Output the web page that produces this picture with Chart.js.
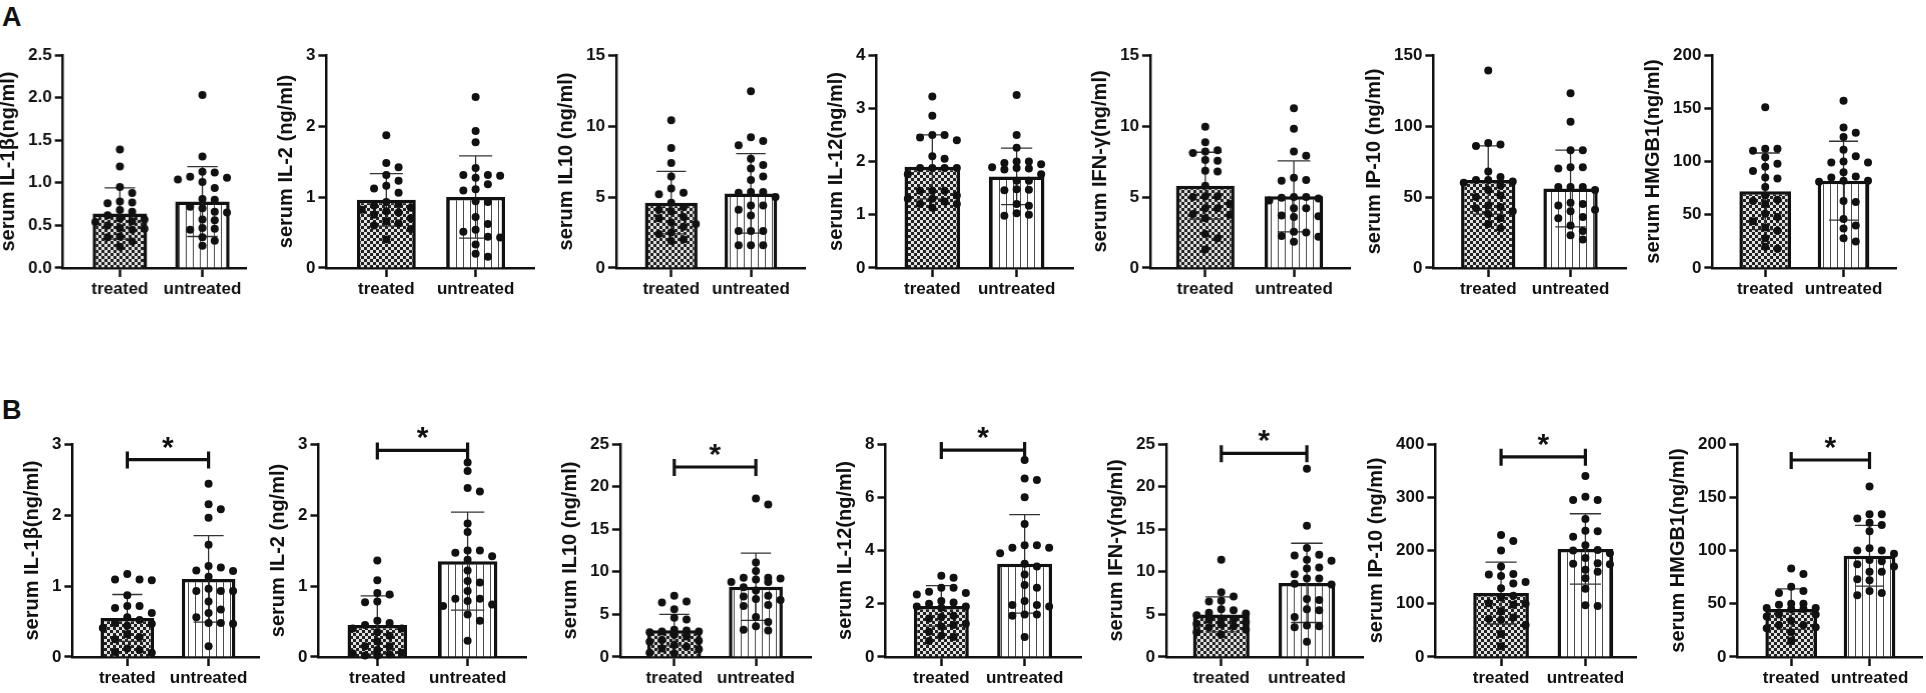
<!DOCTYPE html>
<html>
<head>
<meta charset="utf-8">
<script src="https://cdn.jsdelivr.net/npm/chart.js@4.4.1/dist/chart.umd.min.js"></script>
<style>
  html, body { margin: 0; padding: 0; background: #fff; }
  body { width: 1926px; height: 693px; position: relative; overflow: hidden; font-family: "Liberation Sans", Arial, sans-serif; }
  .panel { position: absolute; left: 0; top: 0; width: 320px; height: 320px; }
  .tag { position: absolute; font: bold 27px "Liberation Sans", Arial, sans-serif; line-height: 27px; color: #111; }
</style>
</head>
<body>
<div class="tag" style="left:2px;top:4px">A</div>
<div class="tag" style="left:2px;top:397px">B</div>
<script>
// =====================
// Data
// =====================
const groups = ['treated', 'untreated'];
const yTitles = ['serum IL-1β(ng/ml)', 'serum IL-2 (ng/ml)', 'serum IL10 (ng/ml)', 'serum IL-12(ng/ml)',
  'serum IFN-γ(ng/ml)', 'serum IP-10 (ng/ml)', 'serum HMGB1(ng/ml)'];

// panel A
const aMax = [2.5, 3, 15, 4, 15, 150, 200];
const aStep = [0.5, 1, 5, 1, 5, 50, 50];
const aMean = [[0.64, 0.78], [0.96, 1.0], [4.6, 5.25], [1.9, 1.72], [5.8, 5.05], [62, 56], [72, 82]];
const aSd = [[0.30, 0.41], [0.37, 0.58], [2.2, 2.8], [0.6, 0.53], [2.35, 2.5], [24, 27], [36, 37]];
const aTreated = [
  [1.39, 1.19, 0.95, 0.88, 0.78, 0.77, 0.76, 0.68, 0.66, 0.62, 0.58, 0.57, 0.55, 0.54, 0.50, 0.47, 0.46, 0.45, 0.37, 0.36, 0.31, 0.25],
  [1.87, 1.48, 1.42, 1.31, 1.23, 1.16, 1.12, 1.06, 0.93, 0.90, 0.88, 0.85, 0.82, 0.80, 0.78, 0.75, 0.70, 0.66, 0.63, 0.60, 0.55, 0.40],
  [10.4, 8.45, 7.4, 6.45, 5.6, 5.3, 5.2, 4.6, 4.3, 4.1, 4.0, 3.6, 3.5, 3.2, 3.1, 2.9, 2.5, 2.4, 2.0, 1.9],
  [3.22, 2.86, 2.5, 2.5, 2.45, 2.4, 2.1, 2.05, 1.88, 1.88, 1.88, 1.88, 1.76, 1.45, 1.45, 1.45, 1.36, 1.3, 1.3, 1.25, 1.2, 1.2, 1.13],
  [9.95, 8.85, 8.3, 8.2, 8.1, 7.6, 7.55, 6.85, 6.8, 5.8, 5.05, 5.05, 5.0, 4.5, 4.2, 4.2, 3.8, 3.75, 3.5, 2.4, 2.1, 1.3],
  [139, 88, 87, 86, 68, 64, 62, 62, 61, 60, 58, 55, 51, 50, 44, 43, 42, 40, 38, 35, 31, 28],
  [151, 112, 112, 110, 104, 98, 95, 91, 85, 84, 76, 68, 64, 63, 60, 51, 48, 44, 38, 35, 28, 20, 18]
];
const aUntreated = [
  [2.03, 1.31, 1.13, 1.12, 1.07, 1.06, 1.04, 1.01, 0.94, 0.81, 0.80, 0.72, 0.70, 0.66, 0.65, 0.57, 0.56, 0.47, 0.46, 0.45, 0.36, 0.32, 0.26],
  [2.41, 1.93, 1.77, 1.41, 1.31, 1.31, 1.30, 1.27, 1.18, 1.11, 1.09, 0.94, 0.93, 0.72, 0.62, 0.54, 0.51, 0.44, 0.43, 0.33, 0.20, 0.16],
  [12.45, 9.2, 8.95, 8.65, 7.7, 7.25, 7.0, 6.45, 6.2, 5.35, 5.35, 5.3, 5.0, 4.4, 4.4, 4.1, 3.7, 2.6, 2.6, 2.6, 1.6, 1.6, 1.6],
  [3.25, 2.5, 2.26, 2.0, 2.0, 1.97, 1.95, 1.89, 1.88, 1.87, 1.85, 1.76, 1.64, 1.64, 1.48, 1.47, 1.46, 1.2, 1.17, 1.03, 1.0, 0.98],
  [11.25, 9.8, 8.2, 7.9, 6.35, 6.2, 6.15, 5.0, 5.0, 4.95, 4.9, 4.75, 4.2, 4.2, 3.7, 3.65, 3.6, 2.55, 2.5, 2.25, 2.2, 1.85],
  [123, 103, 83, 83, 71, 71, 70, 57, 57, 57, 55, 46, 45, 44, 41, 40, 36, 35, 30, 26, 23, 20],
  [157, 132, 127, 123, 111, 105, 100, 99, 99, 90, 86, 85, 82, 82, 81, 63, 62, 46, 40, 37, 28, 25]
];

// panel B
const bMax = [3, 3, 25, 8, 25, 400, 200];
const bStep = [1, 1, 5, 2, 5, 100, 50];
const bMean = [[0.55, 1.1], [0.45, 1.35], [3.15, 8.25], [1.92, 3.5], [5.0, 8.7], [120, 203], [45, 95]];
const bSd = [[0.33, 0.61], [0.41, 0.69], [1.85, 3.95], [0.76, 1.85], [2.05, 4.65], [58, 66], [19, 28.5]];
const bBracket = [2.78, 2.91, 22.3, 7.77, 23.9, 376, 185];
const bMark = '*';
const bTreated = [
  [1.17, 1.09, 1.09, 1.08, 0.87, 0.72, 0.72, 0.69, 0.62, 0.56, 0.52, 0.48, 0.47, 0.44, 0.41, 0.32, 0.28, 0.25, 0.12, 0.10, 0.07, 0.06],
  [1.36, 1.08, 0.90, 0.88, 0.78, 0.77, 0.51, 0.48, 0.45, 0.40, 0.40, 0.35, 0.30, 0.22, 0.15, 0.15, 0.10, 0.06, 0.05, 0.04, 0.02, 0.02],
  [7.2, 6.5, 6.4, 5.6, 4.6, 4.4, 3.2, 3.1, 3.0, 3.0, 2.9, 2.6, 2.4, 2.0, 1.9, 1.8, 1.4, 1.2, 1.0, 0.9, 0.5, 0.4],
  [3.05, 2.98, 2.6, 2.6, 2.45, 2.4, 2.35, 2.1, 2.05, 2.0, 1.9, 1.9, 1.85, 1.55, 1.5, 1.45, 1.25, 1.2, 1.15, 0.95, 0.8, 0.75, 0.6],
  [11.4, 7.6, 7.1, 6.6, 6.5, 5.6, 5.5, 5.2, 5.1, 4.9, 4.5, 4.4, 4.4, 4.1, 3.9, 3.8, 3.6, 3.5, 3.2, 2.9, 2.6],
  [229, 218, 200, 170, 156, 155, 152, 141, 138, 129, 115, 112, 101, 100, 98, 86, 74, 72, 70, 60, 43, 20],
  [83, 78, 66, 62, 60, 50, 50, 49, 46, 46, 45, 45, 40, 40, 38, 34, 30, 30, 28, 27, 23, 15]
];
const bUntreated = [
  [2.44, 2.15, 2.08, 1.96, 1.58, 1.28, 1.26, 1.22, 1.21, 1.13, 0.96, 0.93, 0.93, 0.93, 0.78, 0.67, 0.62, 0.56, 0.48, 0.48, 0.47, 0.15],
  [2.74, 2.62, 2.38, 2.33, 1.88, 1.76, 1.5, 1.5, 1.47, 1.42, 1.37, 1.22, 1.07, 1.05, 0.93, 0.82, 0.82, 0.79, 0.74, 0.72, 0.6, 0.51, 0.23],
  [18.6, 17.9, 11.1, 10.1, 9.3, 9.3, 9.2, 9.1, 8.8, 8.8, 8.2, 7.8, 7.2, 7.1, 6.8, 6.7, 6.1, 6.0, 4.7, 4.1, 3.6, 3.2, 3.1],
  [7.4, 6.7, 6.65, 6.0, 5.0, 4.2, 4.2, 4.1, 4.1, 3.9, 3.5, 3.4, 3.1, 2.7, 2.6, 2.1, 1.95, 1.95, 1.9, 1.6, 1.6, 1.55, 0.75],
  [22.1, 15.4, 12.8, 12.0, 11.9, 11.4, 11.3, 10.5, 10.4, 9.7, 9.2, 9.2, 8.6, 8.5, 6.8, 6.7, 5.6, 5.5, 4.7, 3.7, 3.6, 3.5, 1.8],
  [340, 301, 295, 295, 259, 237, 236, 226, 210, 201, 200, 195, 186, 176, 175, 174, 164, 160, 148, 128, 97, 96],
  [160, 134, 134, 130, 126, 124, 118, 102, 100, 100, 97, 91, 90, 87, 85, 80, 80, 73, 72, 62, 60, 58]
];

// =====================
// Layout (page pixels)
// =====================
const aTop = 55, aZero = 268;
const aAxisX = [63, 326, 616, 876, 1150, 1433, 1712];
const aCenters = [[121, 205], [387, 478], [672, 753], [933, 1019], [1206, 1296], [1489, 1573], [1766, 1846]];
const aEndX = [250, 538, 809, 1077, 1354, 1630, 1900];
const bTop = 444, bZero = 657;
const bAxisX = [72, 318, 620, 885, 1166, 1435, 1737];
const bCenters = [[128, 211], [378, 470], [675, 758], [942, 1027], [1222, 1309], [1502, 1588], [1792, 1872]];
const bEndX = [263, 530, 815, 1085, 1367, 1640, 1926];

const ink = '#111';
const FONT = '"Liberation Sans", Arial, sans-serif';
Chart.defaults.font.family = FONT;
Chart.defaults.color = ink;

// =====================
// Helpers
// =====================
function makePattern(w, h, draw) {
  const c = document.createElement('canvas');
  c.width = w; c.height = h;
  const g = c.getContext('2d');
  draw(g);
  return g.createPattern(c, 'repeat');
}
const checker = makePattern(6, 6, g => {
  g.fillStyle = '#e2e2e2'; g.fillRect(0, 0, 6, 6);
  g.fillStyle = '#222'; g.fillRect(0, 0, 3, 3); g.fillRect(3, 3, 3, 3);
});
const stripes = makePattern(7, 1, g => {
  g.fillStyle = '#fff'; g.fillRect(0, 0, 7, 1);
  g.fillStyle = '#4a4a4a'; g.fillRect(0, 0, 1, 1);
});

// dots spread sideways (like Prism) when they would overlap; stays inside the bar
function swarm(values, center, pxPerX, pxPerY) {
  const slot = 12.5 / pxPerX;
  const order = [0, 1, -1, 2, -2];
  const placed = [];
  values.slice().sort((a, b) => b - a).forEach(v => {
    let pick = 0, bestGap = -1;
    for (const s of order) {
      const gaps = placed.filter(p => p.k === s).map(p => Math.abs(p.y - v) * pxPerY);
      const gap = gaps.length ? Math.min(...gaps) : Infinity;
      if (gap >= 8.5) { pick = s; break; }
      if (gap > bestGap) { bestGap = gap; pick = s; }
    }
    placed.push({ k: pick, y: v });
  });
  return placed.map(p => ({ x: center + p.k * slot, y: p.y }));
}

// error bars (mean ± SD) and significance bracket
const overlay = {
  id: 'overlay',
  afterDatasetDraw(chart, args) {
    if (args.meta.type !== 'bar') return;
    const ctx = chart.ctx, y = chart.scales.y;
    const ds = chart.data.datasets[args.index];
    ctx.save();
    ctx.strokeStyle = '#333';
    ctx.lineWidth = 1.3;
    args.meta.data.forEach((bar, i) => {
      const m = ds.data[i].y, s = ds.sd[i];
      const hi = y.getPixelForValue(m + s), lo = y.getPixelForValue(m - s);
      const half = bar.width * 0.28;
      ctx.beginPath();
      ctx.moveTo(bar.x, hi); ctx.lineTo(bar.x, lo);
      ctx.moveTo(bar.x - half, hi); ctx.lineTo(bar.x + half, hi);
      ctx.moveTo(bar.x - half, lo); ctx.lineTo(bar.x + half, lo);
      ctx.stroke();
    });
    ctx.restore();
  },
  afterDraw(chart, args, opts) {
    if (opts.bracket == null) return;
    const ctx = chart.ctx, x = chart.scales.x, y = chart.scales.y;
    const x1 = x.getPixelForValue(1), x2 = x.getPixelForValue(2);
    const yb = y.getPixelForValue(opts.bracket);
    ctx.save();
    ctx.strokeStyle = ink;
    ctx.lineWidth = 3.2;
    ctx.beginPath();
    ctx.moveTo(x1, yb); ctx.lineTo(x2, yb);
    ctx.moveTo(x1, yb - 8); ctx.lineTo(x1, yb + 9);
    ctx.moveTo(x2, yb - 8); ctx.lineTo(x2, yb + 9);
    ctx.stroke();
    ctx.fillStyle = ink;
    ctx.font = 'bold 30px ' + FONT;
    ctx.textAlign = 'center';
    ctx.textBaseline = 'alphabetic';
    ctx.fillText(opts.mark, (x1 + x2) / 2, yb - 3);
    ctx.restore();
  }
};

function makePanel(p) {
  const unit = p.c2 - p.c1;
  const xMin = 1 - (p.c1 - p.axisX) / unit;
  const xMax = 2 + (p.endX - p.c2) / unit;
  const pxPerY = (p.zeroY - p.topY) / p.yMax;
  const points = p.dots.flatMap((vals, g) => swarm(vals, g + 1, unit, pxPerY));
  const decimals = p.yStep < 1 ? 1 : 0;

  const box = document.createElement('div');
  box.className = 'panel';
  document.body.appendChild(box);
  const canvas = document.createElement('canvas');
  box.appendChild(canvas);

  const chart = new Chart(canvas, {
    type: 'bar',
    data: {
      datasets: [{
        type: 'bar',
        data: p.means.map((m, i) => ({ x: i + 1, y: m })),
        sd: p.sds,
        backgroundColor: [checker, stripes],
        borderColor: ink,
        borderWidth: 3.5,
        barPercentage: 0.66,
        categoryPercentage: 1,
        order: 2
      }, {
        type: 'scatter',
        data: points,
        pointRadius: 4,
        pointBackgroundColor: ink,
        pointBorderWidth: 0,
        clip: false,
        order: 1
      }]
    },
    options: {
      responsive: true,
      maintainAspectRatio: false,
      animation: false,
      events: [],
      layout: { padding: { top: 36, left: 0, right: 0, bottom: 0 } },
      plugins: {
        legend: { display: false },
        tooltip: { enabled: false },
        overlay: { bracket: p.bracket, mark: bMark }
      },
      scales: {
        x: {
          type: 'linear', min: xMin, max: xMax, offset: false,
          afterBuildTicks: s => { s.ticks = groups.map((g, i) => ({ value: i + 1 })); },
          ticks: {
            callback: v => groups[v - 1] || '',
            font: { size: 17, weight: 'bold' }, color: ink, padding: 2,
            autoSkip: false, maxRotation: 0
          },
          grid: { offset: false, drawOnChartArea: false, tickLength: 9, tickWidth: 2.5, tickColor: ink, color: ink },
          border: { display: true, width: 2.5, color: ink }
        },
        y: {
          min: 0, max: p.yMax,
          ticks: {
            stepSize: p.yStep,
            callback: v => v.toFixed(decimals),
            font: { size: 17, weight: 'bold' }, color: ink, padding: 3
          },
          grid: { drawOnChartArea: false, tickLength: 8, tickWidth: 2.5, tickColor: ink },
          border: { display: true, width: 2.5, color: ink },
          title: {
            display: true, text: p.title, color: ink,
            font: { size: 20, weight: 'bold' }, padding: { top: 0, bottom: 5 }
          }
        }
      }
    },
    plugins: [overlay]
  });

  // move the canvas so the plot area lands on the figure's axes
  const area = chart.chartArea;
  const left = p.axisX - area.left;
  const top = p.topY - area.top;
  box.style.left = left + 'px';
  box.style.top = top + 'px';
  box.style.width = (p.endX - left) + 'px';
  box.style.height = (p.zeroY - top + (chart.height - area.bottom)) + 'px';
  chart.resize();
  return chart;
}

// =====================
// Build both rows
// =====================
yTitles.forEach((title, i) => {
  makePanel({
    title, yMax: aMax[i], yStep: aStep[i], means: aMean[i], sds: aSd[i],
    dots: [aTreated[i], aUntreated[i]], bracket: null,
    axisX: aAxisX[i], c1: aCenters[i][0], c2: aCenters[i][1], endX: aEndX[i], topY: aTop, zeroY: aZero
  });
  makePanel({
    title, yMax: bMax[i], yStep: bStep[i], means: bMean[i], sds: bSd[i],
    dots: [bTreated[i], bUntreated[i]], bracket: bBracket[i],
    axisX: bAxisX[i], c1: bCenters[i][0], c2: bCenters[i][1], endX: bEndX[i], topY: bTop, zeroY: bZero
  });
});
</script>
</body>
</html>
